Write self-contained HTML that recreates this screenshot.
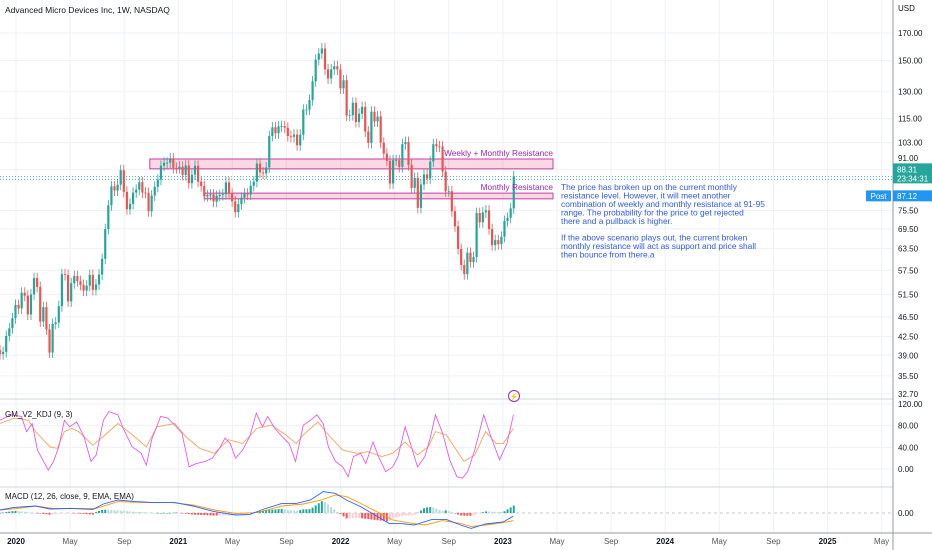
<!DOCTYPE html>
<html><head><meta charset="utf-8"><style>
html,body{margin:0;padding:0;background:#fff;}
svg{display:block;font-family:"Liberation Sans",sans-serif;}
</style></head><body>
<svg id="chart" width="932" height="550" viewBox="0 0 932 550" xmlns="http://www.w3.org/2000/svg">
<g id="grid"></g>
<g id="boxes"></g>
<g id="candles"></g>
<g id="kdj"></g>
<g id="macd"></g>
<g id="axes"></g>
<text x="5" y="13" font-size="8.5" fill="#131722">Advanced Micro Devices Inc, 1W, NASDAQ</text>
<text x="5" y="417" font-size="8" fill="#131722">GM_V2_KDJ (9, 3)</text>
<text x="5" y="499" font-size="8" fill="#131722">MACD (12, 26, close, 9, EMA, EMA)</text>
<text x="553" y="156" font-size="8.3" fill="#9c27b0" text-anchor="end">Weekly + Monthly Resistance</text>
<text x="553" y="190" font-size="8.3" fill="#9c27b0" text-anchor="end">Monthly Resistance</text>
<g font-size="8.4" fill="#2f5be8">
<text x="561" y="190">The price has broken up on the current monthly</text>
<text x="561" y="198.5">resistance level. However, it will meet another</text>
<text x="561" y="207">combination of weekly and monthly resistance at 91-95</text>
<text x="561" y="215.5">range. The probability for the price to get rejected</text>
<text x="561" y="224">there and a pullback is higher.</text>
<text x="561" y="240.5">If the above scenario plays out, the current broken</text>
<text x="561" y="249">monthly resistance will act as support and price shall</text>
<text x="561" y="257.5">then bounce from there.a</text>
</g>
<g>
<circle cx="514" cy="396" r="5.5" fill="#fff" stroke="#9c27b0" stroke-width="1"/>
<text x="514" y="399" font-size="7" fill="#9c27b0" text-anchor="middle">⚡</text>
</g>
</svg>
<script>
// weekly closes starting late Nov 2019
const closes=[39.2,39.6,42.6,44.1,46.2,49.1,48.3,51.9,51.2,47.0,51.5,55.5,53.3,45.5,48.6,43.9,39.5,45.0,45.3,48.8,56.5,56.3,49.9,54.2,56.0,54.7,53.8,52.4,53.6,56.3,52.6,53.9,56.4,60.6,69.4,77.4,84.4,82.8,85.0,90.8,82.3,76.0,77.9,82.0,83.1,86.0,82.0,81.9,75.3,80.9,84.2,87.0,92.7,94.0,94.0,95.9,91.8,91.7,92.3,88.9,92.8,85.6,89.0,92.7,86.2,84.5,80.7,81.1,81.3,78.7,80.8,81.1,81.4,85.9,81.6,78.8,75.0,77.8,80.1,81.6,81.3,84.6,86.2,93.6,89.9,89.5,92.0,106.2,110.5,107.5,111.0,111.1,110.3,106.2,105.8,106.9,101.8,106.8,119.8,119.8,125.2,136.3,150.5,154.8,158.4,144.0,138.1,144.0,146.1,143.9,132.0,137.0,116.6,116.8,123.6,113.2,117.6,121.3,108.4,102.9,118.7,113.5,116.1,103.0,98.0,94.8,85.5,95.1,95.1,92.2,102.3,103.3,93.0,83.8,87.7,76.5,85.1,89.1,87.5,94.5,102.3,101.3,101.2,90.3,82.5,82.5,75.3,70.3,63.4,58.9,56.5,62.3,59.7,61.1,74.7,71.6,74.9,75.6,69.4,64.5,66.0,64.8,67.0,72.0,73.1,76.3,88.3];
const firstOpen=39.9;
const wickPct=[0.025];
const priceTicks=[170,150,130,115,103,91,75.5,69.5,63.5,57.5,51.5,46.5,42.5,39,35.5,32.7];
const timeLabels=["2020","May","Sep","2021","May","Sep","2022","May","Sep","2023","May","Sep","2024","May","Sep","2025","May"];
const kdjTicks=[120,80,40,0];
// KDJ pink line [week, value]
const kWeeks=[0,3.5,6.9,8.6,10.4,12.1,13.8,15.6,17.3,19,20.8,22.5,24.8,27.1,29.4,31.1,33.4,35.2,38.1,39.8,42.7,45.6,47.3,49,51.9,54.2,56.5,58.8,61.1,63.4,66.3,68.6,70.9,72.7,74.4,76.1,78.4,80.7,82.8,84.8,86.5,88.8,91.1,93.4,95.5,98,100.3,102.4,104.4,106.1,108.4,110.7,112.5,114.2,116.5,118.2,120.5,122.3,124.6,126.9,128.6,130.9,132.6,134.9,137.3,139,140.7,143,145.3,147.6,149.4,151.1,153.4,156.3,158.6,161.4,163.8,165.9];
const kVals=[90,100,97,69,84,35,17,-2,14,41,90,78,87,60,14,26,90,106,100,75,41,29,7,54,97,94,81,66,4,10,14,20,38,57,47,20,35,60,103,78,97,75,60,47,14,81,90,100,84,41,14,4,-14,23,29,10,50,23,-5,4,23,78,47,4,23,57,100,66,17,-14,-17,-5,35,100,60,17,47,100];
// KDJ orange line
const dWeeks=[0,4.6,9.2,11.5,16.1,18.5,20.8,23.1,25.4,30,33.4,38.1,41.5,47.3,50.7,56.5,60,64.6,69.2,73.8,78.4,83,87.7,92.3,95.7,98,102.7,106.1,110.7,115.3,118.8,123.4,126.9,130.9,134.9,138.4,140.7,144.2,149.9,153.4,156.9,160.3,162.6,165.9];
const dVals=[84,94,90,69,41,38,69,75,69,44,60,84,69,41,78,84,60,38,29,54,47,75,81,63,47,63,87,63,35,29,32,23,29,50,26,41,69,63,14,26,69,47,47,75];
// MACD lines
const mWeeks=[0,4.6,11.5,16.1,23.1,30,33.4,38.1,43.8,49.6,56.5,62.3,69.2,76.1,80.7,85.3,91.1,95.7,100.3,104.4,108.4,111.9,116.5,121.1,125.7,129.2,133.8,139.6,144.2,148.8,152.2,156.9,162.6,165.9];
const mVals=[1.5,2.8,3.5,2.0,2.3,1.8,4.5,6.5,5.7,5.2,5.2,3.5,0.7,-1,-0.7,2.0,4.8,4.8,6.5,10.7,9.8,6.5,3.2,-1,-5.2,-5.2,-6,-3.2,-3.2,-6,-7.7,-5.5,-4.5,-1.5];
const sWeeks=[0,5.8,11.5,17.3,23.1,31.1,38.1,46.1,55.4,62.3,69.2,76.1,83,91.1,98,103.8,108.4,111.9,116.5,122.3,126.9,131.5,137.3,143,148.8,152.2,156.9,162.6,165.9];
const sVals=[1.5,2.3,3.5,2.3,2.3,2.3,5.7,5.2,5.2,4.0,1.5,-0.2,0.2,3.5,4.5,6.5,9,8.2,4.8,0.2,-3.5,-4.8,-6,-3.8,-5.2,-6.8,-6,-4.8,-3.8];
const zones=[{p1:95.6,p2:91.4,w0:48.4},{p1:81.8,p2:79.7,w0:66}];
const lastPrice=[88.31];const postPrice=[87.12];

const NS="http://www.w3.org/2000/svg";
const X0=0,DX=3.095,PLOT_R=893;
const xW=i=>X0+i*DX;
const yP=p=>33+(Math.log(170)-Math.log(p))*218.9;
const yK=v=>469-v*0.5417;
const yM=v=>513-v*2;
function mk(tag,attrs,parent){const e=document.createElementNS(NS,tag);for(const k in attrs)e.setAttribute(k,attrs[k]);parent.appendChild(e);return e;}
const grid=document.getElementById('grid'),boxes=document.getElementById('boxes'),cg=document.getElementById('candles'),kg=document.getElementById('kdj'),mg=document.getElementById('macd'),ag=document.getElementById('axes');

// grid verticals + time labels
timeLabels.forEach((t,k)=>{const x=16+k*54.1;
 const l=mk('line',{x1:x,x2:x,y1:0,y2:533,stroke:'#eef1f7','stroke-width':1},grid);
 
 
 const tx=mk('text',{x:x,y:544,'font-size':8,'text-anchor':'middle',fill:/^\d/.test(t)?'#131722':'#555','font-weight':/^\d/.test(t)?'bold':'normal'},ag);
 tx.textContent=t;
 
 
});
priceTicks.forEach((p,k)=>{let y=yP(p);
 const l=mk('line',{x1:0,x2:PLOT_R,y1:y,y2:y,stroke:'#eef1f7','stroke-width':1},grid);
 
 
 if(p===91)y-=12;
 const tx=mk('text',{x:898,y:y+3,'font-size':8,fill:'#131722'},ag);
 tx.textContent=p.toFixed(2);
 
 
});
kdjTicks.forEach(v=>{const y=yK(v);
 const l=mk('line',{x1:0,x2:PLOT_R,y1:y,y2:y,stroke:'#eef1f7','stroke-width':1},grid);
 
 
 const tx=mk('text',{x:898,y:y+3,'font-size':8,fill:'#131722'},ag);
 tx.textContent=v.toFixed(2);
 
 
});
// pane separators and axis
[[0,399,PLOT_R,399],[0,487,PLOT_R,487]].forEach(a=>{const l=mk('line',{x1:a[0],y1:a[1],x2:a[2],y2:a[3],stroke:'#d1d4dc','stroke-width':1},ag);
 
 });
let l=mk('line',{x1:0,y1:533,x2:932,y2:533,stroke:'#9598a1','stroke-width':1},ag);


l=mk('line',{x1:PLOT_R,y1:0,x2:PLOT_R,y2:550,stroke:'#9598a1','stroke-width':1},ag);


let t=mk('text',{x:898,y:11,'font-size':8,fill:'#131722'},ag);t.textContent='USD';


t=mk('text',{x:898,y:yM(0)+3,'font-size':8,fill:'#131722'},ag);t.textContent='0.00';


l=mk('line',{x1:0,x2:PLOT_R,y1:yM(0),y2:yM(0),stroke:'#b2b5be','stroke-width':0.7,'stroke-dasharray':'3,3'},mg);



// zones
zones.forEach(z=>{const r=mk('rect',{x:xW(z.w0),y:yP(z.p1),width:553-xW(z.w0),height:yP(z.p2)-yP(z.p1),fill:'rgba(242,54,118,0.2)',stroke:'#c43fa8','stroke-width':1},boxes);
 
 });

// candles
closes.forEach((c,i)=>{const o=i?closes[i-1]:firstOpen;const up=c>=o;const col=up?'#26a69a':'#ef5350';
 const hi=Math.max(o,c)*(1+wickPct[0]),lo=Math.min(o,c)*(1-wickPct[0]);const x=xW(i);
 const g=mk('g',{},cg);
 
 
 mk('line',{x1:x,x2:x,y1:yP(hi),y2:yP(lo),stroke:col,'stroke-width':0.8},g);
 const yt=yP(Math.max(o,c)),yb=yP(Math.min(o,c));
 mk('rect',{x:x-1.1,y:yt,width:2.2,height:Math.max(0.8,yb-yt),fill:col},g);
});
// price lines & labels
const yl=yP(lastPrice[0]),yp=yP(postPrice[0]);
l=mk('line',{x1:0,x2:PLOT_R,y1:yl,y2:yl,stroke:'#26a69a','stroke-width':0.8,'stroke-dasharray':'1,2'},ag);


l=mk('line',{x1:0,x2:PLOT_R,y1:yp,y2:yp,stroke:'#2196f3','stroke-width':0.8,'stroke-dasharray':'1,2'},ag);


let g=mk('g',{},ag);


mk('rect',{x:893,y:yl-13,width:39,height:20,fill:'#26a69a'},g);
t=mk('text',{x:897,y:yl-4,'font-size':8,fill:'#fff'},g);t.textContent=lastPrice[0].toFixed(2);
t=mk('text',{x:897,y:yl+5,'font-size':8,fill:'#fff'},g);t.textContent='23:34:31';
g=mk('g',{},ag);


mk('rect',{x:866,y:yp+11,width:25,height:11,fill:'#2196f3',rx:1},g);
t=mk('text',{x:878.5,y:yp+19.5,'font-size':8,fill:'#fff','text-anchor':'middle'},g);t.textContent='Post';
mk('rect',{x:893,y:yp+11,width:39,height:11,fill:'#2196f3'},g);
t=mk('text',{x:897,y:yp+19.5,'font-size':8,fill:'#fff'},g);t.textContent=postPrice[0].toFixed(2);

// KDJ lines
function poly(ws,vs,yf,col,name,parent,w){const p=mk('polyline',{points:ws.map((wk,i)=>xW(wk)+','+yf(vs[i])).join(' '),fill:'none',stroke:col,'stroke-width':w||1},parent);
 
 }
poly(dWeeks,dVals,yK,'#f7a35c','kdj-d-line',kg,0.9);
poly(kWeeks,kVals,yK,'#e45ee8','kdj-k-line',kg,0.9);

// MACD histogram derived from lines
function interp(ws,vs,w){if(w<=ws[0])return vs[0];for(let i=1;i<ws.length;i++)if(w<=ws[i]){const f=(w-ws[i-1])/(ws[i]-ws[i-1]);return vs[i-1]+f*(vs[i]-vs[i-1]);}return vs[vs.length-1];}
let prev=0;
for(let i=0;i<closes.length;i++){const h=interp(mWeeks,mVals,i)-interp(sWeeks,sVals,i);
 const col=h>=0?(h>=prev?'#26a69a':'#b2dfdb'):(h<prev?'#ff5252':'#ffcdd2');prev=h;
 const y0=yM(0),y1=yM(h*1.6);
 const r=mk('rect',{x:xW(i)-1,y:Math.min(y0,y1),width:2,height:Math.max(0.5,Math.abs(y1-y0)),fill:col},mg);
 
 
}
poly(sWeeks,sVals,yM,'#ff9800','macd-signal-line',mg,0.9);
poly(mWeeks,mVals,yM,'#2962ff','macd-line',mg,0.9);
</script>
</body></html>
